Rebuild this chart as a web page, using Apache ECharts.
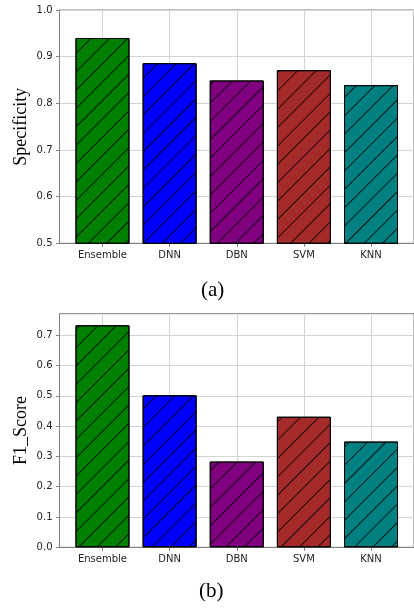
<!DOCTYPE html>
<html>
<head>
<meta charset="utf-8">
<style>
html,body{margin:0;padding:0;background:#fff;}
#chart{width:414px;height:610px;}
</style>
<script src="https://cdn.jsdelivr.net/npm/echarts@6/dist/echarts.min.js"></script>
</head>
<body>
<div id="chart"></div>
<script>
const categories = ['Ensemble', 'DNN', 'DBN', 'SVM', 'KNN'];
const barColors = ['#008000', '#0000ff', '#800080', '#a52a2a', '#008080'];
const specificity = [0.940, 0.886, 0.849, 0.871, 0.839];
const f1Score = [0.733, 0.502, 0.283, 0.431, 0.349];
const specTicks = [0.5, 0.6, 0.7, 0.8, 0.9, 1.0];
const f1Ticks = [0.0, 0.1, 0.2, 0.3, 0.4, 0.5, 0.6, 0.7];
const f1Max = 0.7712;
const positions = categories.map((c, i) => i);

const chart = echarts.init(document.getElementById('chart'), null, {renderer: 'canvas'});

const gray = '#808080';
const gridLine = '#d3d3d3';
const labelFont = {fontFamily: 'DejaVu Sans', fontSize: 10, color: '#222'};

function xAxis(gridIndex) {
  return {
    type: 'value', gridIndex: gridIndex, min: -0.64, max: 4.64,
    axisLine: {show: true, onZero: false, lineStyle: {color: gray, width: 1}},
    axisTick: {show: true, length: 3.5, lineStyle: {color: gray}, customValues: positions},
    axisLabel: Object.assign({show: true, margin: 7, customValues: positions,
      formatter: v => categories[Math.round(v)]}, labelFont),
    splitLine: {show: true, lineStyle: {color: gridLine, width: 1}}
  };
}
function yAxis(gridIndex, min, max, ticks, name) {
  return {
    type: 'value', gridIndex: gridIndex, min: min, max: max,
    name: name, nameLocation: 'middle', nameGap: 29, nameRotate: 90, nameMoveOverlap: false,
    nameTextStyle: {fontFamily: 'Liberation Serif', fontSize: 18, color: '#000'},
    axisLine: {show: true, onZero: false, lineStyle: {color: gray, width: 1}},
    axisTick: {show: true, length: 3.5, lineStyle: {color: gray}, customValues: ticks},
    axisLabel: Object.assign({show: true, margin: 7, customValues: ticks,
      formatter: v => v.toFixed(1)}, labelFont),
    splitLine: {show: true, lineStyle: {color: gridLine, width: 1}}
  };
}
function barSeries(idx, values) {
  return {
    type: 'bar', xAxisIndex: idx, yAxisIndex: idx, barWidth: 54,
    data: values.map((v, i) => ({
      value: [positions[i], v],
      itemStyle: {color: barColors[i], borderColor: '#000', borderWidth: 1,
        decal: {symbol: 'rect', symbolSize: 1, dashArrayX: [1, 0], dashArrayY: [0.8, 12],
          rotation: -Math.PI / 4, color: 'rgba(0,0,0,0.8)'}}
    })),
    z: 3
  };
}

chart.setOption({
  animation: false,
  backgroundColor: '#fff',
  grid: [
    {left: 59.5, top: 10, right: -4, height: 233.3, show: true, borderColor: gray, borderWidth: 1, backgroundColor: 'transparent'},
    {left: 59.5, top: 313.7, right: -4, height: 233.6, show: true, borderColor: gray, borderWidth: 1, backgroundColor: 'transparent'}
  ],
  xAxis: [xAxis(0), xAxis(1)],
  yAxis: [yAxis(0, 0.5, 1.0, specTicks, 'Specificity'), yAxis(1, 0, f1Max, f1Ticks, 'F1_Score')],
  series: [barSeries(0, specificity), barSeries(1, f1Score)],
  graphic: [
    {type: 'text', left: 217 - 16, top: 280, style: {text: '(a)', fontFamily: 'Liberation Serif', fontSize: 21, fill: '#000'}},
    {type: 'text', left: 215 - 16, top: 581, style: {text: '(b)', fontFamily: 'Liberation Serif', fontSize: 21, fill: '#000'}}
  ]
});
</script>
</body>
</html>
